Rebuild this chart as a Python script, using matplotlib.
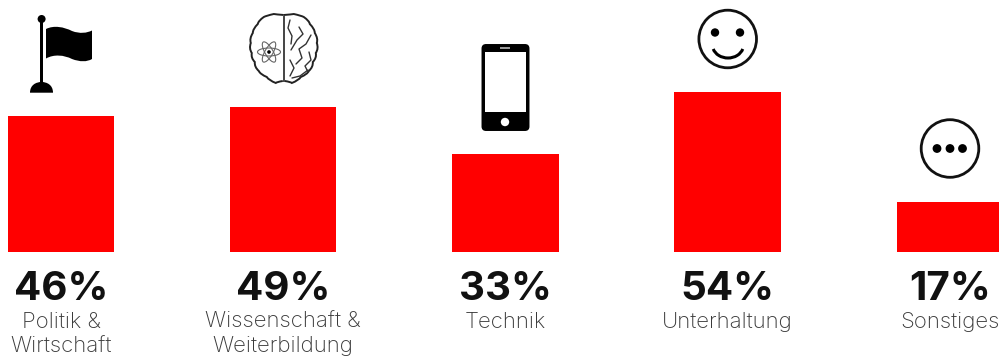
import numpy as np
import matplotlib
matplotlib.use('Agg')
import matplotlib.pyplot as plt
from matplotlib.patches import Circle, Ellipse, FancyBboxPatch, Rectangle, Arc, PathPatch
from matplotlib.path import Path

categories = ['Politik &\nWirtschaft', 'Wissenschaft &\nWeiterbildung', 'Technik', 'Unterhaltung', 'Sonstiges']
values = [46, 49, 33, 54, 17]
value_labels = ['46%', '49%', '33%', '54%', '17%']

RED = '#ff0000'
W, H = 999, 358
BASE_PX = 252.0
PX_PER_PCT = 2.957
SPACING = 222.2
FIRST_X = 61.0

fig = plt.figure(figsize=(W / 100, H / 100), dpi=100)
ax = fig.add_axes([0, 0, 1, 1])
ax.set_xlim(-FIRST_X / SPACING, (W - FIRST_X) / SPACING)
ax.set_ylim(-(H - BASE_PX) / PX_PER_PCT, BASE_PX / PX_PER_PCT)
ax.axis('off')
xs = np.arange(len(values))
ax.bar(xs, values, width=106.5 / SPACING, color=RED, linewidth=0)

# overlay in pixel units for the icons and text
ic = fig.add_axes([0, 0, 1, 1])
ic.set_xlim(0, W)
ic.set_ylim(H, 0)
ic.axis('off')
ic.patch.set_alpha(0)

for x, v, lab in zip(xs, value_labels, categories):
    cx = FIRST_X + x * SPACING
    ic.text(cx, 289.5, v, ha='center', va='center', fontsize=29, fontweight='bold',
            family='Inter', color='#111111')
    lines = lab.split('\n')
    for j, line in enumerate(lines):
        ic.text(cx, 322 + j * 24.5, line, ha='center', va='center', fontsize=16,
                family='Inter', fontweight='light', color='#3a3a3a')

# flag
ic.add_patch(Rectangle((40, 19), 3.2, 70, color='k', lw=0))
ic.add_patch(Circle((41.6, 19), 4, color='k', lw=0))
dome = Path([(30, 92.7), (30, 85), (36, 82), (41.6, 82), (47, 82), (53, 85), (53, 92.7), (30, 92.7)],
            [Path.MOVETO, Path.CURVE4, Path.CURVE4, Path.CURVE4, Path.CURVE4, Path.CURVE4, Path.CURVE4, Path.CLOSEPOLY])
ic.add_patch(PathPatch(dome, fc='k', ec='none'))
flag = Path([(46, 29), (54, 25), (64, 27), (72, 31), (80, 34), (87, 33), (92, 30.5),
             (92, 59), (87, 62), (80, 62), (72, 59), (64, 55), (54, 54), (46, 58.5), (46, 29)],
            [Path.MOVETO, Path.CURVE4, Path.CURVE4, Path.CURVE4, Path.CURVE4, Path.CURVE4, Path.CURVE4,
             Path.LINETO, Path.CURVE4, Path.CURVE4, Path.CURVE4, Path.CURVE4, Path.CURVE4, Path.CURVE4, Path.CLOSEPOLY])
ic.add_patch(PathPatch(flag, fc='k', ec='none'))

# brain outline, lobes on each side of the centre line
bx, by = 283.8, 48
lobes = [(0, -33), (10, -34), (20, -31), (26, -24), (31, -15), (33, -5), (32, 5),
         (29, 14), (25, 23), (17, 29), (8, 35), (1, 33)]
for side in (-1, 1):
    px = [bx + side * p[0] for p in lobes]
    py = [by + p[1] for p in lobes]
    verts = [(px[0], py[0])]
    codes = [Path.MOVETO]
    for i in range(len(px) - 1):
        mx = (px[i] + px[i + 1]) / 2 + side * 2.5
        my = (py[i] + py[i + 1]) / 2 + (py[i + 1] - py[i]) * 0.05
        verts += [(mx, my), (px[i + 1], py[i + 1])]
        codes += [Path.CURVE3, Path.CURVE3]
    ic.add_patch(PathPatch(Path(verts, codes), fc='none', ec='#222222', lw=1.4))
ic.plot([bx, bx], [by - 31, by + 33], color='#444444', lw=1.4)

# right lobe folds
folds = [[(290, 20), (288, 28), (292, 36), (291, 44)],
         [(299, 27), (303, 34), (297, 40), (291, 50)],
         [(311, 35), (306, 44), (299, 49), (302, 58), (296, 64)],
         [(290, 60), (294, 68), (290, 76)],
         [(309, 52), (311, 60), (305, 66), (308, 72)],
         [(292, 78), (300, 76), (308, 70)]]
for f in folds:
    f = np.array(f)
    ic.plot(f[:, 0], f[:, 1], color='#333333', lw=1.0, solid_capstyle='round')

# atom on the left lobe
for ang in (0, 60, 120):
    ic.add_patch(Ellipse((269, 52), 23, 8, angle=ang, fc='none', ec='#666666', lw=0.8))
ic.add_patch(Circle((269, 52), 1.8, color='k', lw=0))

# phone
ic.add_patch(FancyBboxPatch((482.5, 45), 46, 85, boxstyle='round,pad=0,rounding_size=3.5',
                            fc='k', ec='k', lw=1.4))
ic.add_patch(Rectangle((484.5, 52), 41.5, 60, color='w', lw=0))
ic.add_patch(Circle((505, 122), 4.2, color='w', lw=0))
ic.add_patch(Rectangle((500, 46.8), 10, 2.4, color='#999999', lw=0))

# smiley
ic.add_patch(Circle((727.7, 39), 28.8, fc='none', ec='#111111', lw=2))
for ex in (715, 740):
    ic.add_patch(Circle((ex, 32.5), 4.2, color='k', lw=0))
ic.add_patch(Arc((728, 45), 31, 26, theta1=15, theta2=165, ec='k', lw=2.2))

# dots in a circle
ic.add_patch(Circle((950, 148.5), 28.8, fc='none', ec='#111111', lw=2))
for dx in (937, 950, 962.5):
    ic.add_patch(Circle((dx, 148.5), 4.4, color='k', lw=0))

fig.savefig('out.png', dpi=100, facecolor='white')
